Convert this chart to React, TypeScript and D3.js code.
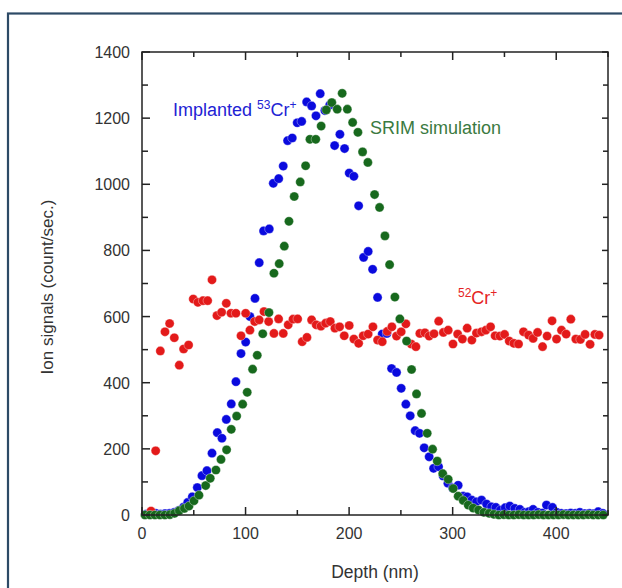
import React from "react";
import * as d3 from "d3";

// Implanted 53Cr+ (blue): depth (nm) and counts/s
const implantedDepth = [4.2, 8.7, 13.2, 17.7, 22.2, 26.7, 31.2, 35.7, 40.2, 44.1, 48.6, 53.4, 57.9, 62.7, 67.6, 72.7, 77.2, 81.4, 86.2, 90.7, 95.6, 100.1, 104.2, 109.1, 113.2, 117.4, 122.9, 126.8, 132, 136.4, 140.6, 145.1, 149.9, 154.2, 159, 163.8, 168, 172.1, 176.6, 181.3, 186, 191.1, 195.6, 200.1, 204.6, 209.2, 214, 218.4, 222.7, 227.5, 232, 236.5, 241, 245.8, 250.3, 254.8, 259, 263.8, 268, 272.5, 277.3, 281.6, 286.4, 290.8, 295.4, 300, 305.3, 310.2, 314, 318.5, 323, 327.9, 332.7, 337.5, 341.7, 346.2, 350.7, 355.2, 360, 364.9, 369.5, 373.5, 377.7, 382.2, 386.7, 390.6, 396.4, 400.5, 405, 409.5, 414, 418.5, 422.8, 427.5, 432, 436.5, 440.5, 445];
const implantedValue = [3, 4, 5, 3, 4, 5, 8, 14, 24, 38, 55, 83, 119, 134, 187, 249, 232, 289, 336, 403, 488, 523, 600, 655, 763, 859, 865, 1003, 1017, 1055, 1132, 1140, 1186, 1190, 1249, 1237, 1207, 1274, 1223, 1240, 1117, 1151, 1108, 1034, 1024, 935, 779, 797, 743, 658, 547, 549, 443, 431, 383, 335, 300, 255, 247, 203, 176, 141, 146, 118, 96, 82, 90, 57, 55, 45, 40, 45, 33, 25, 23, 15, 22, 27, 20, 17, 8, 10, 17, 8, 6, 30, 23, 8, 5, 4, 6, 5, 8, 4, 5, 4, 10, 5];

// 52Cr+ (red)
const matrixDepth = [8.7, 13.2, 17.7, 22.2, 26.7, 31.2, 36, 40.2, 45, 49.5, 54, 58.9, 63.4, 67.6, 72.4, 76.9, 81.4, 85.9, 90.7, 95.6, 100.1, 104.2, 108.8, 113.2, 117.8, 122.3, 127.4, 131.9, 136.4, 141.2, 145.8, 150.3, 154.7, 159.3, 163.8, 168.2, 172.8, 177.3, 181.8, 186.3, 190.8, 195.3, 200.1, 204.6, 209.2, 213.6, 218.4, 223, 227.5, 232, 236.8, 241.3, 245.8, 250.3, 254.8, 260, 264.5, 268.3, 273.2, 277.3, 282, 286.5, 291, 295.7, 300.3, 304.8, 309.4, 314, 318.5, 323, 327.9, 332, 336.6, 341, 345.6, 350.1, 354.6, 359.1, 363.6, 368.4, 373.3, 377.7, 382, 386.8, 391.2, 396, 400.3, 405.1, 409.6, 414.1, 418.9, 423.4, 427.9, 432.7, 437.3, 441.4];
const matrixValue = [12, 194, 496, 554, 579, 536, 453, 502, 514, 653, 643, 648, 648, 711, 603, 613, 640, 610, 610, 542, 610, 559, 585, 590, 615, 585, 549, 593, 549, 575, 592, 593, 524, 537, 590, 575, 571, 580, 585, 565, 569, 542, 573, 532, 519, 542, 547, 569, 529, 524, 555, 569, 541, 554, 578, 517, 509, 549, 551, 541, 548, 586, 552, 559, 517, 547, 532, 565, 529, 550, 554, 559, 569, 542, 541, 546, 526, 519, 517, 554, 544, 534, 552, 509, 541, 587, 532, 559, 547, 592, 532, 531, 546, 516, 546, 544];

// SRIM simulation (green)
const srimDepth = [2.9, 7.7, 12.5, 17.3, 22.1, 26.9, 31.5, 36, 40.9, 45.4, 50.2, 55, 61.5, 65.9, 71.4, 76.3, 81.7, 86.2, 91.4, 97.2, 101.6, 106.8, 111.3, 116.6, 122.6, 127.4, 132.5, 137.4, 141.9, 147, 152.8, 158, 162.2, 167.8, 173, 178, 183.3, 188.5, 193.3, 198.3, 203.4, 208.5, 213, 218.1, 224.6, 229.4, 234.6, 239.1, 244.2, 249, 255.5, 260.3, 265.1, 269.9, 275.4, 280.6, 285.1, 290.4, 295.7, 300.5, 305.3, 310.2, 315, 319.8, 325, 330.1, 335.2, 339.8, 344.6, 349.4, 354.2, 359, 363.8, 368.6, 373.4, 378.2, 383, 387.8, 392.6, 397.4, 402.2, 407, 411.8, 416.6, 421.4, 426.2, 431, 435.8, 440.6, 445.4];
const srimValue = [0, 0, 0, 0, 0, 1, 5, 13, 20, 27, 43, 60, 89, 111, 136, 168, 197, 259, 299, 335, 371, 441, 483, 548, 612, 731, 760, 813, 888, 963, 1007, 1056, 1136, 1136, 1176, 1225, 1247, 1227, 1275, 1227, 1187, 1157, 1098, 1066, 969, 930, 844, 757, 659, 593, 526, 440, 366, 307, 247, 199, 163, 125, 108, 80, 57, 44, 30, 21, 15, 8, 5, 2, 0, 1, 0, 0, 1, 0, 0, 0, 1, 0, 0, 0, 0, 1, 0, 0, 0, 0, 1, 0, 0, 0];

const xTicksMajor = [0, 100, 200, 300, 400];
const xTicksMinor = [50, 150, 250, 350, 450];
const yTicksMajor = [0, 200, 400, 600, 800, 1000, 1200, 1400];
const yTicksMinor = [100, 300, 500, 700, 900, 1100, 1300];

const FONT = "'Liberation Sans', Arial, sans-serif";

export default function App() {
  const W = 622, H = 588;
  const left = 142, right = 608, top = 52, bottom = 515;
  const x = d3.scaleLinear().domain([0, 450]).range([left, right]);
  const y = d3.scaleLinear().domain([0, 1400]).range([bottom, top]);

  const blue = implantedDepth.map((d, i) => [d, implantedValue[i]]);
  const red = matrixDepth.map((d, i) => [d, matrixValue[i]]);
  const green = srimDepth.map((d, i) => [d, srimValue[i]]);

  const axisColor = "#222";
  const r = 4.6;

  const dot = (data: number[][], fill: string, key: string) =>
    data.map((p, i) => (
      <circle key={key + i} cx={x(p[0])} cy={y(p[1])} r={r} fill={fill}
        stroke="#ffffff" strokeOpacity={0.6} strokeWidth={0.6} />
    ));

  return (
    <svg width={W} height={H} style={{ position: "absolute", left: 0, top: 0, background: "#fff" }}
      fontFamily={FONT}>
      <rect x={0} y={0} width={W} height={H} fill="#fff" />
      <rect x={8} y={13.5} width={W + 20} height={H + 20} fill="none" stroke="#2d4a66" strokeWidth={2.2} />

      {/* data */}
      <g>{dot(blue, "#0a0ade", "b")}</g>
      <g>{dot(red, "#e31a1a", "r")}</g>
      <g>{dot(green, "#17691d", "g")}</g>

      {/* frame */}
      <rect x={left} y={top} width={right - left} height={bottom - top} fill="none" stroke={axisColor} strokeWidth={1.5} />

      {/* x ticks bottom & top */}
      {xTicksMajor.map(t => (
        <g key={"xm" + t}>
          <line x1={x(t)} x2={x(t)} y1={bottom} y2={bottom - 8} stroke={axisColor} strokeWidth={1.5} />
          <line x1={x(t)} x2={x(t)} y1={top} y2={top + 8} stroke={axisColor} strokeWidth={1.5} />
          <text x={x(t)} y={539} textAnchor="middle" fontSize={16} fill="#333">{t}</text>
        </g>
      ))}
      {xTicksMinor.map(t => (
        <g key={"xn" + t}>
          <line x1={x(t)} x2={x(t)} y1={bottom} y2={bottom - 5} stroke={axisColor} strokeWidth={1.5} />
          <line x1={x(t)} x2={x(t)} y1={top} y2={top + 5} stroke={axisColor} strokeWidth={1.5} />
        </g>
      ))}

      {/* y ticks left & right */}
      {yTicksMajor.map(t => (
        <g key={"ym" + t}>
          <line x1={left} x2={left + 8} y1={y(t)} y2={y(t)} stroke={axisColor} strokeWidth={1.5} />
          <line x1={right} x2={right - 6} y1={y(t)} y2={y(t)} stroke={axisColor} strokeWidth={1.5} />
          <text x={130} y={y(t) + 6} textAnchor="end" fontSize={16} fill="#333">{t}</text>
        </g>
      ))}
      {yTicksMinor.map(t => (
        <g key={"yn" + t}>
          <line x1={left} x2={left + 6} y1={y(t)} y2={y(t)} stroke={axisColor} strokeWidth={1.5} />
          <line x1={right} x2={right - 5} y1={y(t)} y2={y(t)} stroke={axisColor} strokeWidth={1.5} />
        </g>
      ))}

      {/* axis titles */}
      <text x={375} y={578} textAnchor="middle" fontSize={17.5} fill="#333">Depth (nm)</text>
      <text transform="translate(53,287) rotate(-90)" textAnchor="middle" fontSize={17} fill="#333">Ion signals (count/sec.)</text>

      {/* annotations */}
      <text x={173} y={116} fontSize={18} fill="#2222d4">
        Implanted <tspan fontSize={12} dy={-7}>53</tspan><tspan dy={7}>Cr</tspan><tspan fontSize={12} dy={-7}>+</tspan>
      </text>
      <text x={370} y={134} fontSize={18} fill="#3b7a41">SRIM simulation</text>
      <text x={458} y={304} fontSize={18} fill="#e52424">
        <tspan fontSize={12} dy={-7}>52</tspan><tspan dy={7}>Cr</tspan><tspan fontSize={12} dy={-7}>+</tspan>
      </text>
    </svg>
  );
}
